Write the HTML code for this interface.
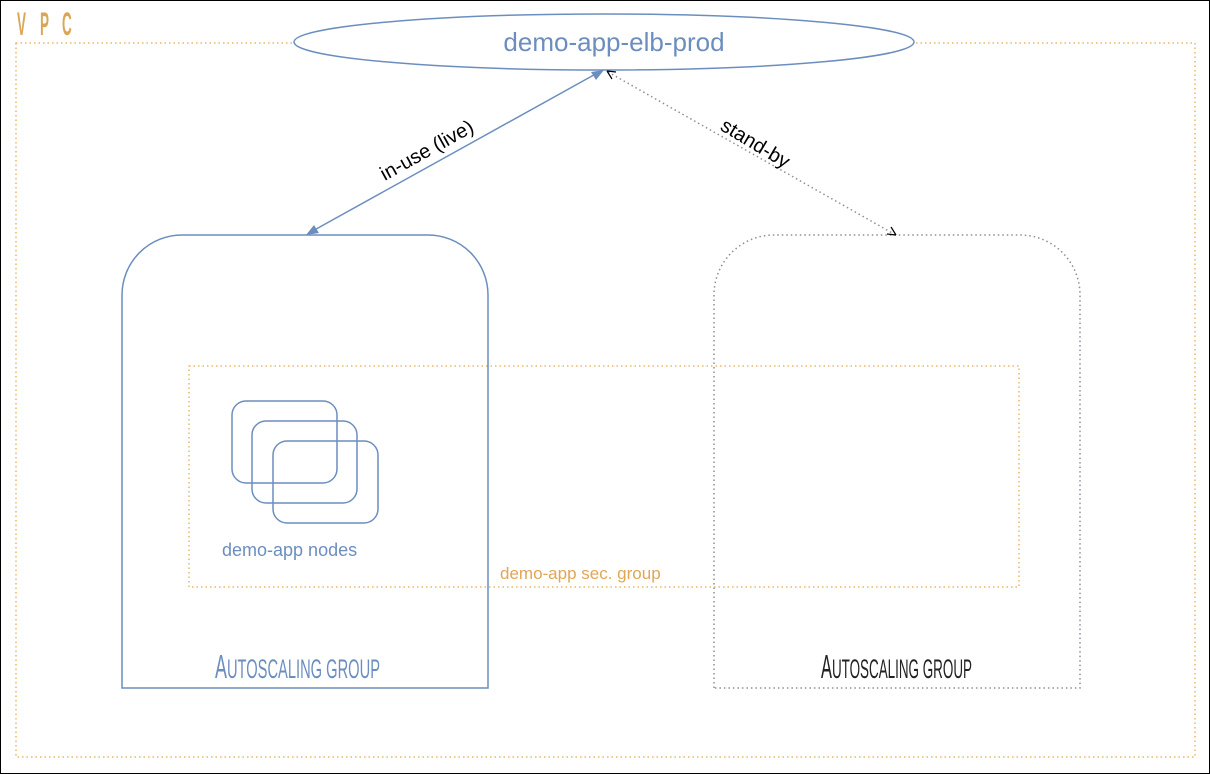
<!DOCTYPE html>
<html><head><meta charset="utf-8"><style>
html,body{margin:0;padding:0;background:#fff;}
svg{display:block;}
</style></head><body>
<svg width="1210" height="774" viewBox="0 0 1210 774" xmlns="http://www.w3.org/2000/svg">
<rect x="0.5" y="0.5" width="1209" height="773" fill="#fff" stroke="#000" stroke-width="1"/>
<rect x="16" y="43" width="1179" height="714" fill="none" stroke="#e8b866" stroke-width="1.5" stroke-dasharray="1.5,3"/>
<g font-family="'Liberation Sans',sans-serif" font-size="32" font-weight="bold" fill="#dba654">
<text transform="translate(17,35) scale(0.42,1)">V</text>
<text transform="translate(40,35) scale(0.42,1)">P</text>
<text transform="translate(62,35) scale(0.42,1)">C</text>
</g>
<rect x="189" y="366" width="830" height="221" fill="none" stroke="#e8b866" stroke-width="1.5" stroke-dasharray="1.5,3"/>
<text x="500" y="579" font-family="'Liberation Sans',sans-serif" font-size="17" fill="#e0a655">demo-app sec. group</text>
<path d="M122 688 V295 A60 60 0 0 1 182 235 H428 A60 60 0 0 1 488 295 V688 Z" fill="none" stroke="#6c8ebf" stroke-width="1.5"/>
<text x="215" y="678" font-family="'Liberation Sans',sans-serif" font-size="27" fill="#6c8ebf" textLength="165" lengthAdjust="spacingAndGlyphs"><tspan font-size="33">A</tspan>UTOSCALING GROUP</text>
<path d="M714 688 V295 A60 60 0 0 1 774 235 H1020 A60 60 0 0 1 1080 295 V688 Z" fill="none" stroke="#8a8f9a" stroke-width="1.5" stroke-dasharray="1.5,3"/>
<text x="821" y="678" font-family="'Liberation Sans',sans-serif" font-size="27" fill="#222" textLength="151" lengthAdjust="spacingAndGlyphs"><tspan font-size="33">A</tspan>UTOSCALING GROUP</text>
<g fill="none" stroke="#6c8ebf" stroke-width="1.5">
<rect x="232" y="401" width="105" height="82" rx="14"/>
<rect x="252" y="421" width="105" height="82" rx="14"/>
<rect x="273" y="441" width="105" height="82" rx="14"/>
</g>
<text x="222" y="556" font-family="'Liberation Sans',sans-serif" font-size="18" fill="#6c8ebf">demo-app nodes</text>
<ellipse cx="604" cy="42" rx="310" ry="28" fill="#fff" stroke="#6c8ebf" stroke-width="1.5"/>
<text x="614" y="51" text-anchor="middle" font-family="'Liberation Sans',sans-serif" font-size="26" fill="#6c8ebf">demo-app-elb-prod</text>
<line x1="601" y1="71" x2="309" y2="233" stroke="#6c8ebf" stroke-width="1.5"/>
<path d="M604 70 L591 72 L596 80 Z" fill="#6c8ebf"/>
<path d="M306 235 L319 233 L314 225 Z" fill="#6c8ebf"/>
<text transform="translate(430,156) rotate(-29)" text-anchor="middle" font-family="'Liberation Sans',sans-serif" font-size="20" fill="#000">in-use (live)</text>
<line x1="608" y1="72" x2="894" y2="234" stroke="#8a8f9a" stroke-width="1.5" stroke-dasharray="1.5,3"/>
<path d="M607 71 L612 79 M607 71 L616 72" stroke="#000" stroke-width="1.2" fill="none"/>
<path d="M896 235 L891 227 M896 235 L887 234" stroke="#000" stroke-width="1.2" fill="none"/>
<text transform="translate(752,149) rotate(31)" text-anchor="middle" font-family="'Liberation Sans',sans-serif" font-size="20" fill="#000">stand-by</text>
</svg>
</body></html>
